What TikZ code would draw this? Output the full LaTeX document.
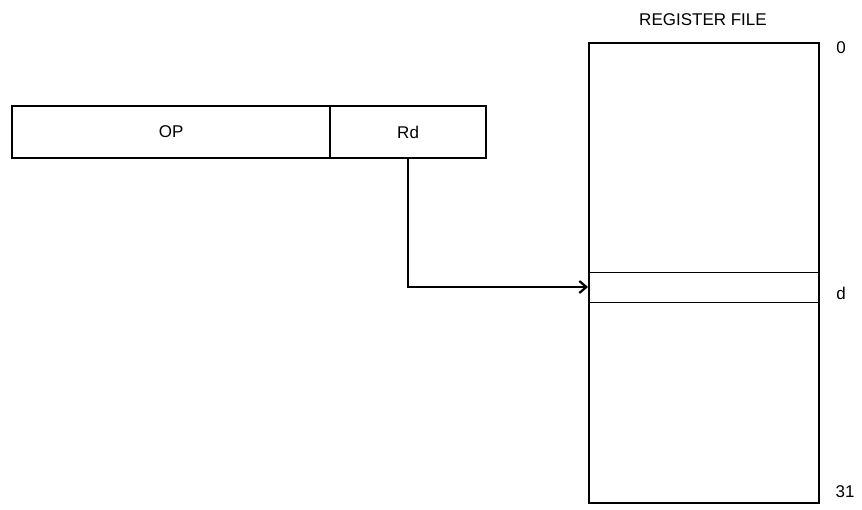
\documentclass[tikz,border=0pt]{standalone}
\usepackage{fontspec}
\setmainfont{Liberation Sans}
\usetikzlibrary{arrows.meta}
\begin{document}
\begin{tikzpicture}[x=1pt,y=-1pt,
  box/.style={draw,line width=2.2pt,inner sep=0pt,anchor=north west},
  lbl/.style={font=\fontsize{17}{20}\selectfont},
  thin/.style={line width=0.8pt}]
\useasboundingbox (0,0) rectangle (862,509);
\node[box,minimum width=318pt,minimum height=52pt] (op) at (11,105) {};
\node[box,minimum width=156pt,minimum height=52pt] (rd) at (329,105) {};
\node[lbl] at (op.center) {OP};
\node[lbl] at (rd.center) {Rd};
\node[box,minimum width=230pt,minimum height=460pt] (rf) at (588,42) {};
\coordinate (d1w) at (588,272); \coordinate (d1e) at (818,272);
\coordinate (d2w) at (588,302); \coordinate (d2e) at (818,302);
\draw[thin] (d1w) -- (d1e);
\draw[thin] (d2w) -- (d2e);
\coordinate (tgt) at (588,287);
\draw[line width=2.2pt,-{Straight Barb[length=7pt,width=12pt]}] (rd.south) |- (tgt);
\node[lbl] at (703,20) {REGISTER FILE};
\node[lbl] at (841,48) {0};
\node[lbl] at (841,293) {d};
\node[lbl] at (845,492) {31};
\end{tikzpicture}
\end{document}
